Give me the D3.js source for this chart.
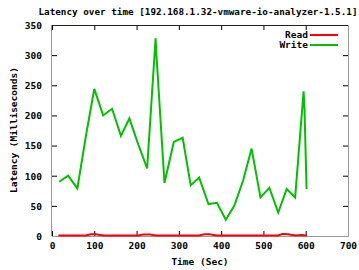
<!DOCTYPE html>
<html><head><meta charset="utf-8">
<script src="https://cdn.jsdelivr.net/npm/d3@7"></script>
<style>body{margin:0;background:#fff}svg{display:block}text{font-family:"DejaVu Sans Mono",monospace;font-weight:bold;font-size:9.5px;fill:#000}</style>
</head><body><svg id="c" width="359" height="270"></svg>
<script>
const title = "Latency over time [192.168.1.32-vmware-io-analyzer-1.5.1]";
const xLabel = "Time (Sec)";
const yLabel = "Latency (Milliseconds)";
const seriesNames = ["Read", "Write"];
const seriesColors = ["#ff0000", "#00c000"];
const xTicks = [0, 100, 200, 300, 400, 500, 600, 700];
const yTicks = [0, 50, 100, 150, 200, 250, 300, 350];
const writeTime = [17, 38, 60, 80, 100, 121, 142, 163, 183, 204, 225, 245, 247, 266, 288, 309, 328, 348, 370, 390, 411, 431, 452, 472, 493, 514, 535, 555, 575, 595, 597, 602];
const writeVal  = [90, 100, 79, 165, 244, 200, 211, 166, 195, 152, 112, 328, 300, 88, 156, 163, 84, 97, 53, 55, 27, 50, 92, 145, 64, 80, 39, 78, 64, 240, 213, 78];
const readTime = [15, 38, 60, 80, 92, 103, 121, 142, 163, 183, 204, 215, 232, 246, 266, 288, 309, 328, 348, 360, 372, 390, 411, 431, 452, 472, 493, 514, 535, 545, 558, 575, 590, 602];
const readVal  = [1, 1, 1, 1, 3, 3, 1, 1, 1, 1, 1, 2.5, 2.5, 1, 1, 1, 1, 1, 1, 3, 3, 1, 1, 1, 1, 1, 1, 1, 1, 3.5, 3, 1, 1.5, 1];

const svg = d3.select("#c");
const L = 52, R = 348, T = 25, B = 236;
const x = d3.scaleLinear().domain([0, 700]).range([L, R]);
const y = d3.scaleLinear().domain([0, 350]).range([B, T]);

svg.append("text").attr("x", 198).attr("y", 15).attr("text-anchor", "middle").style("font-size", "9.3px").text(title);

// axes with inward ticks
const gB = svg.append("g").attr("transform", `translate(0,${B})`)
  .call(d3.axisBottom(x).tickValues(xTicks).tickSizeInner(-5).tickSizeOuter(0).tickPadding(9));
const gT = svg.append("g").attr("transform", `translate(0,${T})`)
  .call(d3.axisTop(x).tickValues(xTicks).tickSizeInner(-5).tickSizeOuter(0).tickFormat(""));
const gL = svg.append("g").attr("transform", `translate(${L},0)`)
  .call(d3.axisLeft(y).tickValues(yTicks).tickSizeInner(-5).tickSizeOuter(0).tickPadding(10));
const gR = svg.append("g").attr("transform", `translate(${R},0)`)
  .call(d3.axisRight(y).tickValues(yTicks).tickSizeInner(-5).tickSizeOuter(0).tickFormat(""));
[gB, gT, gL, gR].forEach(g => {
  g.select(".domain").remove();
  g.selectAll(".tick line").attr("stroke", "#000");
  g.selectAll("text").attr("font-family", null).attr("font-size", null).attr("fill", "#000");
});
gL.selectAll("text").attr("dy", "0.35em");
gB.selectAll("text").attr("dy", "0.45em");

// border
svg.append("line").attr("x1", L).attr("x2", R).attr("y1", T + 0.5).attr("y2", T + 0.5).attr("stroke", "#222");
svg.append("line").attr("x1", L - 0.5).attr("x2", L - 0.5).attr("y1", T).attr("y2", B).attr("stroke", "#999");
svg.append("line").attr("x1", R + 0.5).attr("x2", R + 0.5).attr("y1", T).attr("y2", B).attr("stroke", "#999");
svg.append("line").attr("x1", L).attr("x2", R + 1).attr("y1", B + 0.5).attr("y2", B + 0.5).attr("stroke", "#999");

const line = d3.line().x(d => x(d[0])).y(d => y(d[1]));
svg.append("path").datum(writeTime.map((t, i) => [t, writeVal[i]]))
  .attr("d", line).attr("fill", "none").attr("stroke", seriesColors[1]).attr("stroke-width", 2).attr("stroke-linejoin", "miter");
svg.append("path").datum(readTime.map((t, i) => [t, readVal[i]]))
  .attr("d", line).attr("fill", "none").attr("stroke", seriesColors[0]).attr("stroke-width", 2);

// legend
seriesNames.forEach((n, i) => {
  const yy = 35 + i * 10;
  svg.append("text").attr("x", 308).attr("y", yy).attr("dy", "0.35em").attr("text-anchor", "end").text(n);
  svg.append("line").attr("x1", 310).attr("x2", 338).attr("y1", yy).attr("y2", yy).attr("stroke", seriesColors[i]).attr("stroke-width", 2);
});

svg.append("text").attr("x", 200).attr("y", 265).attr("text-anchor", "middle").text(xLabel);
svg.append("text").attr("transform", "translate(17,130) rotate(-90)").attr("text-anchor", "middle").text(yLabel);
</script></body></html>
